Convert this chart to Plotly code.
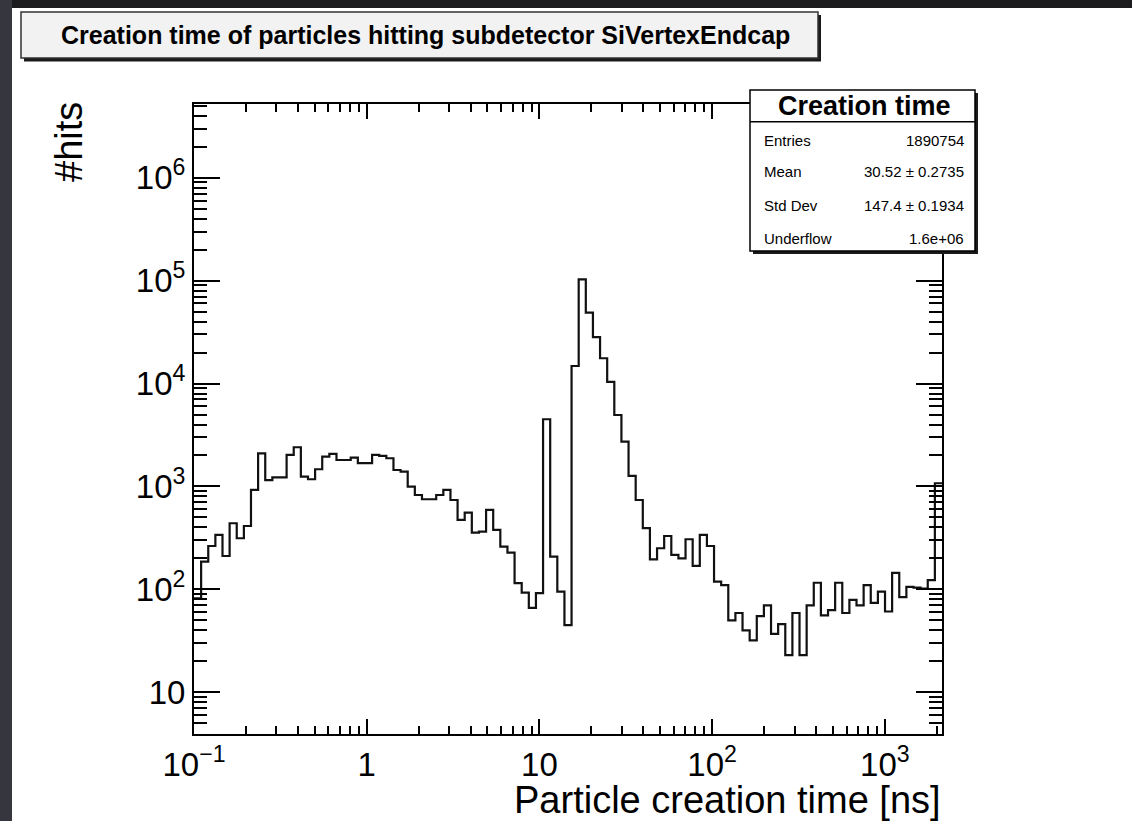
import numpy as np
import plotly.graph_objects as go

# ---------------- data ----------------
counts = [82, 186, 264, 338, 211, 439, 314, 413, 925, 2100,
          1155, 1228, 1228, 2025, 2405, 1245, 1175, 1470, 1950, 2070,
          1808, 1808, 1905, 1683, 1683, 2024, 1980, 1880, 1445, 1392,
          996, 826, 751, 751, 826, 925, 739, 473, 557, 356,
          364, 592, 378, 260, 228, 115, 93, 66, 92, 4500,
          208, 95, 45, 14800, 103000, 48900, 28200, 17600, 10400, 4950,
          2725, 1265, 739, 393, 196, 251, 330, 216, 200, 307,
          169, 338, 264, 119, 110, 50, 59, 40, 32, 55,
          70, 37, 46, 23, 59, 23, 70, 116, 56, 63,
          116, 59, 79, 70, 110, 74, 95, 61, 145, 84,
          106, 104, 102, 123, 1075]

LOG_T_MIN = -1.0
LOG_T_MAX = 3.331
LOG_Y_MIN = 0.595
LOG_Y_MAX = 6.716

x_tickvals = [0.1, 1, 10, 100, 1000]
x_ticktext = ["10<sup>\u22121</sup>", "1", "10", "10<sup>2</sup>", "10<sup>3</sup>"]
y_tickvals = [10, 100, 1000, 10000, 100000, 1000000]
y_ticktext = ["10", "10<sup>2</sup>", "10<sup>3</sup>", "10<sup>4</sup>",
              "10<sup>5</sup>", "10<sup>6</sup>"]

title_text = "Creation time of particles hitting subdetector SiVertexEndcap"
x_title = "Particle creation time [ns]"
y_title = "#hits"
stats_title = "Creation time"
stats_labels = ["Entries", "Mean", "Std Dev", "Underflow"]
stats_values = ["1890754", "30.52 \u00b1 0.2735", "147.4 \u00b1 0.1934", "1.6e+06"]

# ---------------- geometry ----------------
W, H = 1132, 821
L, R, T, B = 194, 190, 104, 87
PW = W - L - R
PH = H - T - B


def px(xp):
    return (xp - L) / PW


def py(yp):
    return (H - B - yp) / PH


edges = np.logspace(LOG_T_MIN, LOG_T_MAX, len(counts) + 1)
x_step = list(edges)
y_step = counts + [counts[-1]]

x_minor = [d * m for d in [0.1, 1, 10, 100, 1000] for m in range(2, 10)
           if d * m <= 10 ** LOG_T_MAX]
y_minor = [d * m for d in [1, 10, 100, 1e3, 1e4, 1e5, 1e6] for m in range(2, 10)
           if 10 ** LOG_Y_MIN <= d * m <= 10 ** LOG_Y_MAX]

FONT = "Liberation Sans, Arial, Helvetica, sans-serif"

fig = go.Figure()
fig.add_trace(go.Scatter(x=x_step, y=y_step, mode="lines",
                         line=dict(shape="hv", color="#111111", width=2.2),
                         hoverinfo="skip", showlegend=False))

axis_common = dict(showline=True, linewidth=2, linecolor="black", mirror="allticks",
                   showgrid=False, zeroline=False, ticks="inside", tickwidth=1.5,
                   tickcolor="black", tickmode="array",
                   tickfont=dict(family=FONT, size=33, color="black"))

fig.update_xaxes(type="log", range=[LOG_T_MIN, LOG_T_MAX],
                 tickvals=x_tickvals, ticktext=x_ticktext, ticklen=15,
                 minor=dict(tickmode="array", tickvals=x_minor, ticks="inside", ticklen=8,
                            tickwidth=1.5, tickcolor="black", showgrid=False),
                 **axis_common)
fig.update_yaxes(type="log", range=[LOG_Y_MIN, LOG_Y_MAX],
                 tickvals=y_tickvals, ticktext=y_ticktext, ticklen=26,
                 minor=dict(tickmode="array", tickvals=y_minor, ticks="inside", ticklen=13,
                            tickwidth=1.5, tickcolor="black", showgrid=False),
                 **axis_common)

shapes = []
# dark window frame
shapes.append(dict(type="rect", xref="paper", yref="paper", x0=px(0), x1=px(W), y0=py(0), y1=py(8),
                   fillcolor="#1c1c1e", line=dict(width=0), layer="above"))
shapes.append(dict(type="rect", xref="paper", yref="paper", x0=px(0), x1=px(12), y0=py(0), y1=py(H),
                   fillcolor="#36363e", line=dict(width=0), layer="above"))
# title box
shapes.append(dict(type="rect", xref="paper", yref="paper", x0=px(24), x1=px(821), y0=py(15), y1=py(61.5),
                   fillcolor="#1a1a1a", line=dict(width=0), layer="above"))
shapes.append(dict(type="rect", xref="paper", yref="paper", x0=px(21), x1=px(818), y0=py(12), y1=py(58),
                   fillcolor="#f2f2f2", line=dict(color="#333333", width=1.5), layer="above"))
# stats box
shapes.append(dict(type="rect", xref="paper", yref="paper", x0=px(753), x1=px(978), y0=py(93), y1=py(254),
                   fillcolor="#1a1a1a", line=dict(width=0), layer="above"))
shapes.append(dict(type="rect", xref="paper", yref="paper", x0=px(750), x1=px(975), y0=py(90), y1=py(251),
                   fillcolor="white", line=dict(color="black", width=1.5), layer="above"))
shapes.append(dict(type="line", xref="paper", yref="paper", x0=px(750), x1=px(975), y0=py(121.7), y1=py(121.7),
                   line=dict(color="black", width=1.5), layer="above"))

annotations = []
annotations.append(dict(text="<b>%s</b>" % title_text, xref="paper", yref="paper",
                        x=px(425), y=py(35), xanchor="center", yanchor="middle", showarrow=False,
                        font=dict(family=FONT, size=25, color="black")))
annotations.append(dict(text="<b>%s</b>" % stats_title, xref="paper", yref="paper",
                        x=px(864), y=py(106), xanchor="center", yanchor="middle", showarrow=False,
                        font=dict(family=FONT, size=27, color="black")))
row_y = [140, 171.7, 205, 238]
for lab, val, yy in zip(stats_labels, stats_values, row_y):
    annotations.append(dict(text=lab, xref="paper", yref="paper", x=px(762), y=py(yy),
                            xanchor="left", yanchor="middle", showarrow=False,
                            font=dict(family=FONT, size=15, color="black")))
    annotations.append(dict(text=val, xref="paper", yref="paper", x=px(966), y=py(yy),
                            xanchor="right", yanchor="middle", showarrow=False,
                            font=dict(family=FONT, size=15, color="black")))
annotations.append(dict(text=y_title, xref="paper", yref="paper", x=px(69), y=py(100),
                        xanchor="center", yanchor="top", textangle=-90, showarrow=False,
                        font=dict(family=FONT, size=38, color="black")))
annotations.append(dict(text=x_title, xref="paper", yref="paper", x=px(943), y=py(800),
                        xanchor="right", yanchor="middle", showarrow=False,
                        font=dict(family=FONT, size=38, color="black")))

fig.update_layout(width=W, height=H, autosize=False,
                  margin=dict(l=L, r=R, t=T, b=B, pad=0),
                  paper_bgcolor="white", plot_bgcolor="white",
                  shapes=shapes, annotations=annotations, showlegend=False)

fig.write_html("out.html")
